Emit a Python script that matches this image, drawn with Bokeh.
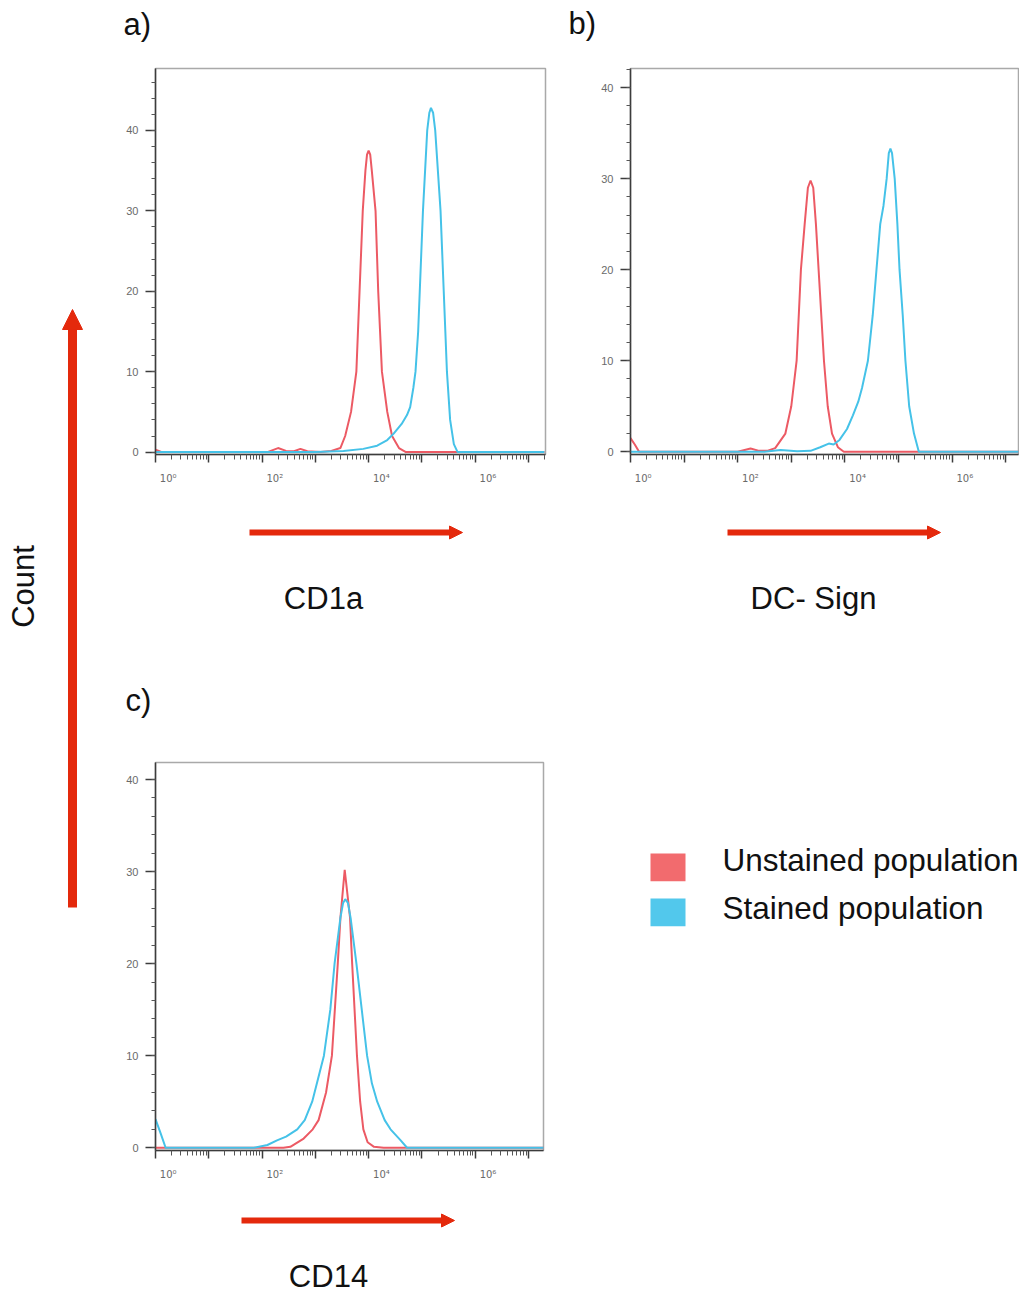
import json
import numpy as np
from bokeh.plotting import figure
from bokeh.layouts import row, column
from bokeh.models import Range1d, FixedTicker, CustomJSTickFormatter, Arrow, NormalHead
from bokeh.core.properties import value
from bokeh.embed import file_html
from bokeh.resources import INLINE

# ---------------- data (x given as log10 of fluorescence intensity) ----------------
A_UNSTAINED_LOGX = [0.0, 0.12, 2.1, 2.3, 2.45, 2.6, 2.72, 2.85, 3.1, 3.3, 3.47, 3.56, 3.67, 3.77, 3.83,
                    3.89, 3.94, 3.97, 4.0, 4.03, 4.06, 4.13, 4.18, 4.25, 4.35, 4.44, 4.57, 4.7, 7.3]
A_UNSTAINED_COUNT = [0.3, 0, 0, 0.5, 0.15, 0.1, 0.4, 0.1, 0, 0.15, 0.5, 2, 5, 10, 20,
                     30, 35, 37.0, 37.5, 37.0, 35, 30, 20, 10, 5, 2, 0.5, 0, 0]
A_STAINED_LOGX = [0.0, 3.0, 3.53, 3.9, 4.16, 4.35, 4.47, 4.62, 4.72, 4.78, 4.84, 4.88, 4.93, 4.96,
                  5.02, 5.10, 5.14, 5.17, 5.21, 5.25, 5.35, 5.41, 5.44, 5.47, 5.53, 5.6, 5.67, 7.3]
A_STAINED_COUNT = [0, 0, 0.15, 0.4, 0.8, 1.5, 2.3, 3.5, 4.6, 5.6, 8, 10, 15, 20,
                   30, 40, 42.2, 42.8, 42.2, 40, 30, 20, 15, 10, 4, 1, 0, 0]

B_UNSTAINED_LOGX = [0.0, 0.08, 0.16, 2.0, 2.24, 2.4, 2.55, 2.7, 2.89, 3.0, 3.10, 3.18, 3.25, 3.31, 3.36,
                    3.41, 3.46, 3.51, 3.61, 3.68, 3.76, 3.87, 3.98, 7.3]
B_UNSTAINED_COUNT = [1.5, 0.8, 0, 0, 0.35, 0.1, 0.1, 0.4, 2, 5, 10, 20, 25, 29.0, 29.8,
                     29.0, 25, 20, 10, 5, 2, 0.5, 0, 0]
B_STAINED_LOGX = [0.0, 2.5, 2.8, 3.11, 3.36, 3.54, 3.70, 3.79, 3.9, 4.04, 4.15, 4.25, 4.32, 4.43,
                  4.52, 4.59, 4.66, 4.72, 4.78, 4.82, 4.85, 4.88, 4.93, 4.98, 5.02, 5.08, 5.13, 5.2,
                  5.29, 5.38, 7.3]
B_STAINED_COUNT = [0, 0, 0.2, 0.05, 0.1, 0.5, 0.9, 0.8, 1.3, 2.5, 4, 5.5, 7, 10,
                   15, 20, 25, 27, 30, 32.8, 33.3, 32.8, 30, 25, 20, 15, 10, 5,
                   2, 0, 0]

C_UNSTAINED_LOGX = [0.0, 2.4, 2.53, 2.78, 2.95, 3.06, 3.2, 3.31, 3.42, 3.47, 3.55, 3.65, 3.69, 3.78,
                    3.84, 3.9, 3.98, 4.1, 4.28, 7.3]
C_UNSTAINED_COUNT = [0, 0, 0.1, 1, 2, 3, 6, 10, 20, 25, 30.2, 25, 20, 10,
                     5, 2, 0.6, 0.1, 0, 0]
C_STAINED_LOGX = [0.0, 0.1, 0.19, 1.85, 2.1, 2.28, 2.45, 2.66, 2.8, 2.94, 3.05, 3.16, 3.28, 3.36,
                  3.47, 3.52, 3.56, 3.61, 3.66, 3.77, 3.87, 3.97, 4.06, 4.16, 4.3, 4.41, 4.6, 4.72, 7.3]
C_STAINED_COUNT = [3.1, 1.5, 0, 0, 0.3, 0.8, 1.2, 2, 3, 5, 7.5, 10, 15, 20,
                   25, 26.6, 27, 26.6, 25, 20, 15, 10, 7, 5, 3, 2, 0.8, 0, 0]

Y_TICKS = [0, 10, 20, 30, 40]
Y_MINOR_TICKS = list(range(0, 48, 2))
X_DECADES = list(range(0, 8))
X_TICK_LABELS = {0: "10\u2070", 2: "10\u00b2", 4: "10\u2074", 6: "10\u2076"}
PANEL_TAGS = ["a)", "b)", "c)"]
MARKERS = ["CD1a", "DC- Sign", "CD14"]
LEGEND_LABELS = ["Unstained population", "Stained population"]
Y_TITLE = "Count"

# ---------------- style ----------------
RED_LINE = "#ec5a64"
BLUE_LINE = "#45c2e8"
RED_BOX = "#f26b6e"
BLUE_BOX = "#52c8ec"
ARROW_RED = "#e4290c"
FONT = "Liberation Sans"
BIG = "31px"


def panel(ux, uy, sx, sy, x_end_exp, y_end, fw, fh, bl, br, bt, bb):
    p = figure(width=bl + fw + br, height=bt + fh + bb, x_axis_type="log",
               x_range=Range1d(1, 10 ** x_end_exp), y_range=Range1d(-0.3, y_end),
               output_backend="svg", toolbar_location=None,
               min_border_left=bl, min_border_right=br, min_border_top=bt, min_border_bottom=bb)
    p.xgrid.visible = False
    p.ygrid.visible = False
    p.outline_line_color = "#a9a9a9"
    p.outline_line_width = 1.5
    p.background_fill_color = "white"
    p.border_fill_color = "white"

    p.line(np.power(10.0, ux), uy, line_color=RED_LINE, line_width=2)
    p.line(np.power(10.0, sx), sy, line_color=BLUE_LINE, line_width=2)

    xa = p.xaxis[0]
    xa.ticker = FixedTicker(ticks=[10.0 ** k for k in X_DECADES],
                            minor_ticks=[m * 10.0 ** k for k in X_DECADES for m in range(2, 10)])
    labels = {str(k): "\u2007\u2007\u2007\u2007" + v for k, v in X_TICK_LABELS.items()}
    xa.formatter = CustomJSTickFormatter(code="""
        const labels = %s;
        const e = Math.round(Math.log10(tick));
        const s = labels[String(e)];
        return s === undefined ? "" : s;
    """ % json.dumps(labels))
    ya = p.yaxis[0]
    ya.ticker = FixedTicker(ticks=Y_TICKS, minor_ticks=Y_MINOR_TICKS)
    for ax in (xa, ya):
        ax.axis_line_color = "#3c3c3c"
        ax.axis_line_width = 1.5
        ax.major_tick_line_color = "#3c3c3c"
        ax.major_tick_line_width = 1.5
        ax.minor_tick_line_color = "#555555"
        ax.minor_tick_line_width = 1
        ax.major_tick_in = 0
        ax.minor_tick_in = 0
        ax.major_label_text_color = "#6a6a6a"
    xa.major_label_text_font = "DejaVu Sans"
    xa.major_label_text_font_size = "10px"
    ya.major_label_text_font = FONT
    ya.major_label_text_font_size = "11px"
    xa.major_tick_out = 8
    xa.minor_tick_out = 5
    xa.major_label_standoff = 10
    ya.major_tick_out = 10
    ya.minor_tick_out = 4
    ya.major_label_standoff = 7
    return p


def deco(x0, x1, y0, y1):
    p = figure(width=x1 - x0, height=y1 - y0, x_range=Range1d(x0, x1), y_range=Range1d(-y1, -y0),
               x_axis_location=None, y_axis_location=None, output_backend="svg",
               toolbar_location=None, min_border=0)
    p.outline_line_color = None
    p.grid.visible = False
    p.background_fill_color = "white"
    p.border_fill_color = "white"
    return p


def txt(p, x, y, s, align="left", baseline="alphabetic", angle=0.0, size=BIG):
    p.text(x=[x], y=[-y], text=[s], text_align=align, text_baseline=baseline, angle=angle,
           text_font=value(FONT), text_font_size=value(size), text_color="#111111")


def arrow(p, xs, ys, xe, ye, w, head):
    p.add_layout(Arrow(end=NormalHead(size=head, fill_color=ARROW_RED, line_color=ARROW_RED, line_width=1),
                       x_start=xs, y_start=-ys, x_end=xe, y_end=-ye,
                       line_color=ARROW_RED, line_width=w))


# ---------------- panels ----------------
pa = panel(A_UNSTAINED_LOGX, A_UNSTAINED_COUNT, A_STAINED_LOGX, A_STAINED_COUNT,
           7.32, 47.7, 390, 386, 55, 30, 8, 38)
pb = panel(B_UNSTAINED_LOGX, B_UNSTAINED_COUNT, B_STAINED_LOGX, B_STAINED_COUNT,
           7.24, 42.1, 388, 386, 55, 1, 8, 38)
pc = panel(C_UNSTAINED_LOGX, C_UNSTAINED_COUNT, C_STAINED_LOGX, C_STAINED_COUNT,
           7.28, 41.85, 388, 388, 55, 32, 22, 38)

# ---------------- decorations (page pixel coordinates) ----------------
left = deco(0, 100, 0, 1296)
txt(left, 23, 586, Y_TITLE, align="center", baseline="middle", angle=np.pi / 2)
arrow(left, 72, 907, 72, 309, 9, 20)

header = deco(100, 1019, 0, 60)
txt(header, 123, 24, PANEL_TAGS[0])
txt(header, 568, 23, PANEL_TAGS[1])

middle = deco(100, 1019, 492, 740)
arrow(middle, 249, 532, 462, 532, 6, 13)
arrow(middle, 727, 532, 940, 532, 6, 13)
txt(middle, 323, 598, MARKERS[0], align="center")
txt(middle, 813, 598, MARKERS[1], align="center")
txt(middle, 125, 700, PANEL_TAGS[2])

leg = deco(575, 1019, 740, 1188)
leg.quad(left=[650], right=[685], top=[-845], bottom=[-877], fill_color=RED_BOX, line_color=None)
leg.quad(left=[650], right=[685], top=[-897], bottom=[-929], fill_color=BLUE_BOX, line_color=None)
txt(leg, 722, 853, LEGEND_LABELS[0], size="31.5px")
txt(leg, 722, 908, LEGEND_LABELS[1], size="31.5px")

bottom = deco(100, 1019, 1188, 1296)
arrow(bottom, 241, 1220, 454, 1220, 6, 13)
txt(bottom, 328, 1276, MARKERS[2], align="center")

layout = row(left, column(header, row(pa, pb), middle, row(pc, leg), bottom))

open("out.html", "w").write(file_html(layout, INLINE))
